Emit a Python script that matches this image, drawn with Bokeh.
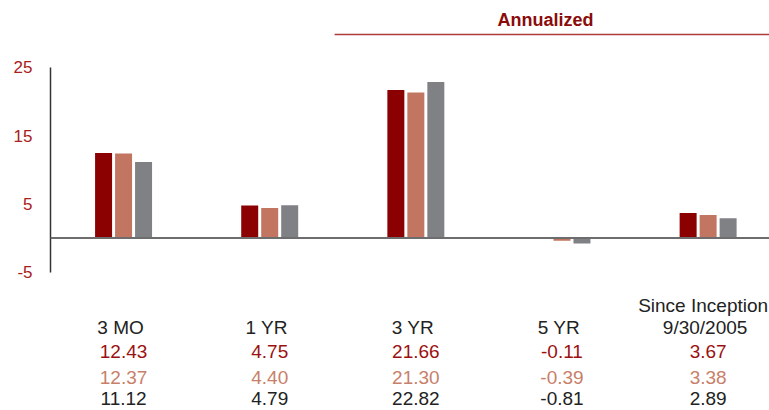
import numpy as np
from bokeh.plotting import figure
from bokeh.models import Range1d, FixedTicker, Span, ColumnDataSource
from bokeh.core.properties import value
from bokeh.embed import file_html
from bokeh.resources import INLINE

# ---- data ----
categories = ["3 MO", "1 YR", "3 YR", "5 YR", "9/30/2005"]
cat_headers = ["", "", "", "", "Since Inception"]
series_a = [12.43, 4.75, 21.66, -0.11, 3.67]
series_b = [12.37, 4.40, 21.30, -0.39, 3.38]
series_c = [11.12, 4.79, 22.82, -0.81, 2.89]
y_ticks = [-5, 5, 15, 25]
y_tick_labels = ["-5", "5", "15", "25"]
group_title = "Annualized"

# ---- styles ----
col_a, col_b, col_c = "#8b0000", "#c27661", "#808184"
txt_a, txt_b, txt_c = "#9b1111", "#c8806a", "#222222"
FONT = value("Liberation Sans")

p = figure(width=769, height=410, output_backend="svg", toolbar_location=None,
           x_range=Range1d(-0.5, 4.42), y_range=Range1d(-25.25, 34.76),
           x_axis_location=None, min_border_left=50, min_border_right=0,
           min_border_top=0, min_border_bottom=0)
p.outline_line_color = None
p.grid.visible = False
p.background_fill_color = "white"

ya = p.yaxis[0]
ya.ticker = FixedTicker(ticks=y_ticks)
ya.major_label_overrides = {t: s for t, s in zip(y_ticks, y_tick_labels)}
ya.bounds = (-5, 25)
ya.axis_line_color = "#333333"
ya.axis_line_width = 1.5
ya.major_tick_line_color = None
ya.minor_tick_line_color = None
ya.major_tick_out = 0
ya.major_tick_in = 0
ya.minor_tick_out = 0
ya.major_label_standoff = 18
ya.major_label_text_font = "Liberation Sans"
ya.major_label_text_font_size = "17px"
ya.major_label_text_color = "#a8201a"

idx = np.arange(len(categories))
bw = 0.1163
off = 0.1368
for vals, c, o in [(series_a, col_a, -off), (series_b, col_b, 0.0), (series_c, col_c, off)]:
    src = ColumnDataSource(dict(x=idx + o, top=vals))
    p.vbar(x="x", top="top", bottom=0, width=bw, source=src, fill_color=c, line_color=None)

p.add_layout(Span(location=0, dimension="width", line_color="#6d6d6d", line_width=2))

def row(texts, y, color, size="19px", style="normal", dx=0):
    p.text(x=idx, y=[y] * len(texts), text=texts, text_align="center",
           text_baseline="alphabetic", text_font=FONT, text_font_size=value(size),
           text_color=color, text_font_style=style, x_offset=dx)

row(cat_headers, -9.85, "#222222", dx=-5)
row(categories, -13.08, "#222222", dx=-3)
row(["%.2f" % v for v in series_a], -16.55, txt_a)
row(["%.2f" % v for v in series_b], -20.42, txt_b)
row(["%.2f" % v for v in series_c], -23.5, txt_c)

# group header
p.text(x=[2.887], y=[31.95], text=[group_title], text_align="center",
       text_baseline="alphabetic", text_font=FONT, text_font_size=value("18px"),
       text_font_style="bold", text_color="#8b0a0a")
p.segment(x0=[1.444], y0=[29.78], x1=[4.6], y1=[29.78], line_color="#b03a3a", line_width=1.5)

open("out.html", "w").write(file_html(p, INLINE))
